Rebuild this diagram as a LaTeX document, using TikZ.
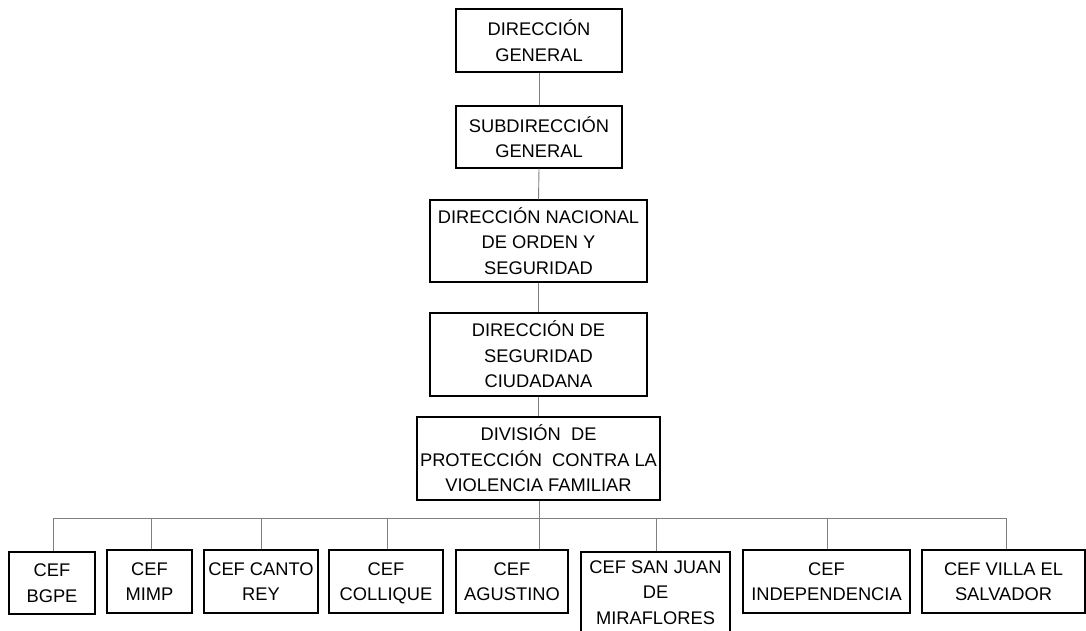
\documentclass[tikz,border=0pt]{standalone}
\usepackage{fontspec}
\setmainfont{Liberation Sans}
\begin{document}
\begin{tikzpicture}[x=1pt,y=-1pt,
  box/.style={draw=black,line width=1.2pt,rectangle,inner sep=0pt,align=center,
    text depth=0pt,font=\fontsize{18.3}{25.5}\selectfont},
  conn/.style={draw=black!50,line width=0.9pt}]
\useasboundingbox (0,0) rectangle (1086,630);
\clip (0,0) rectangle (1086,630);
\node[box,minimum width=166pt,minimum height=63pt] (dg) at (539,40.5) {DIRECCIÓN\\GENERAL};
\node[box,minimum width=166pt,minimum height=62pt] (sdg) at (539,137) {SUBDIRECCIÓN\\GENERAL};
\node[box,minimum width=217pt,minimum height=82pt] (dnos) at (538.5,241) {DIRECCIÓN NACIONAL\\DE ORDEN Y\\SEGURIDAD};
\node[box,minimum width=217pt,minimum height=83pt] (dsc) at (538.5,354.5) {DIRECCIÓN DE\\SEGURIDAD\\CIUDADANA};
\node[box,minimum width=243pt,minimum height=83pt] (div) at (538.5,458.5) {DIVISIÓN\ \ DE\\PROTECCIÓN\ \ CONTRA LA\\VIOLENCIA FAMILIAR};
\node[box,minimum width=86pt,minimum height=62pt] (bgpe) at (52,583) {CEF\\BGPE};
\node[box,minimum width=85pt,minimum height=63pt] (mimp) at (149.5,581.5) {CEF\\MIMP};
\node[box,minimum width=114pt,minimum height=63pt] (canto) at (261,581.5) {CEF CANTO\\REY};
\node[box,minimum width=114pt,minimum height=63pt] (coll) at (386,581.5) {CEF\\COLLIQUE};
\node[box,minimum width=112pt,minimum height=63pt] (agu) at (512,581.5) {CEF\\AGUSTINO};
\node[box,minimum width=149pt,minimum height=81pt] (sjm) at (655.5,592.5) {CEF SAN JUAN\\DE\\MIRAFLORES};
\node[box,minimum width=167pt,minimum height=63pt] (indep) at (826.5,581.5) {CEF\\INDEPENDENCIA};
\node[box,minimum width=163pt,minimum height=63pt] (villa) at (1003.5,581.5) {CEF VILLA EL\\SALVADOR};
\coordinate (bus) at (539,518);
\draw[conn] (dg.south) -- (sdg.north);
\draw[conn] (sdg.south) -- (dnos.north);
\draw[conn] (dnos.south) -- (dsc.north);
\draw[conn] (dsc.south) -- (div.north);
\draw[conn] ([xshift=0.5pt]div.south) -- (bus);
\draw[conn] (bus) -| ([xshift=1pt]bgpe.north);
\draw[conn] (bus) -| ([xshift=1.5pt]mimp.north);
\draw[conn] (bus) -| (canto.north);
\draw[conn] (bus) -| ([xshift=1pt]coll.north);
\draw[conn] (bus) -| ([xshift=27pt]agu.north);
\draw[conn] (bus) -| ([xshift=0.5pt]sjm.north);
\draw[conn] (bus) -| ([xshift=0.5pt]indep.north);
\draw[conn] (bus) -| ([xshift=2.5pt]villa.north);
\end{tikzpicture}
\end{document}
